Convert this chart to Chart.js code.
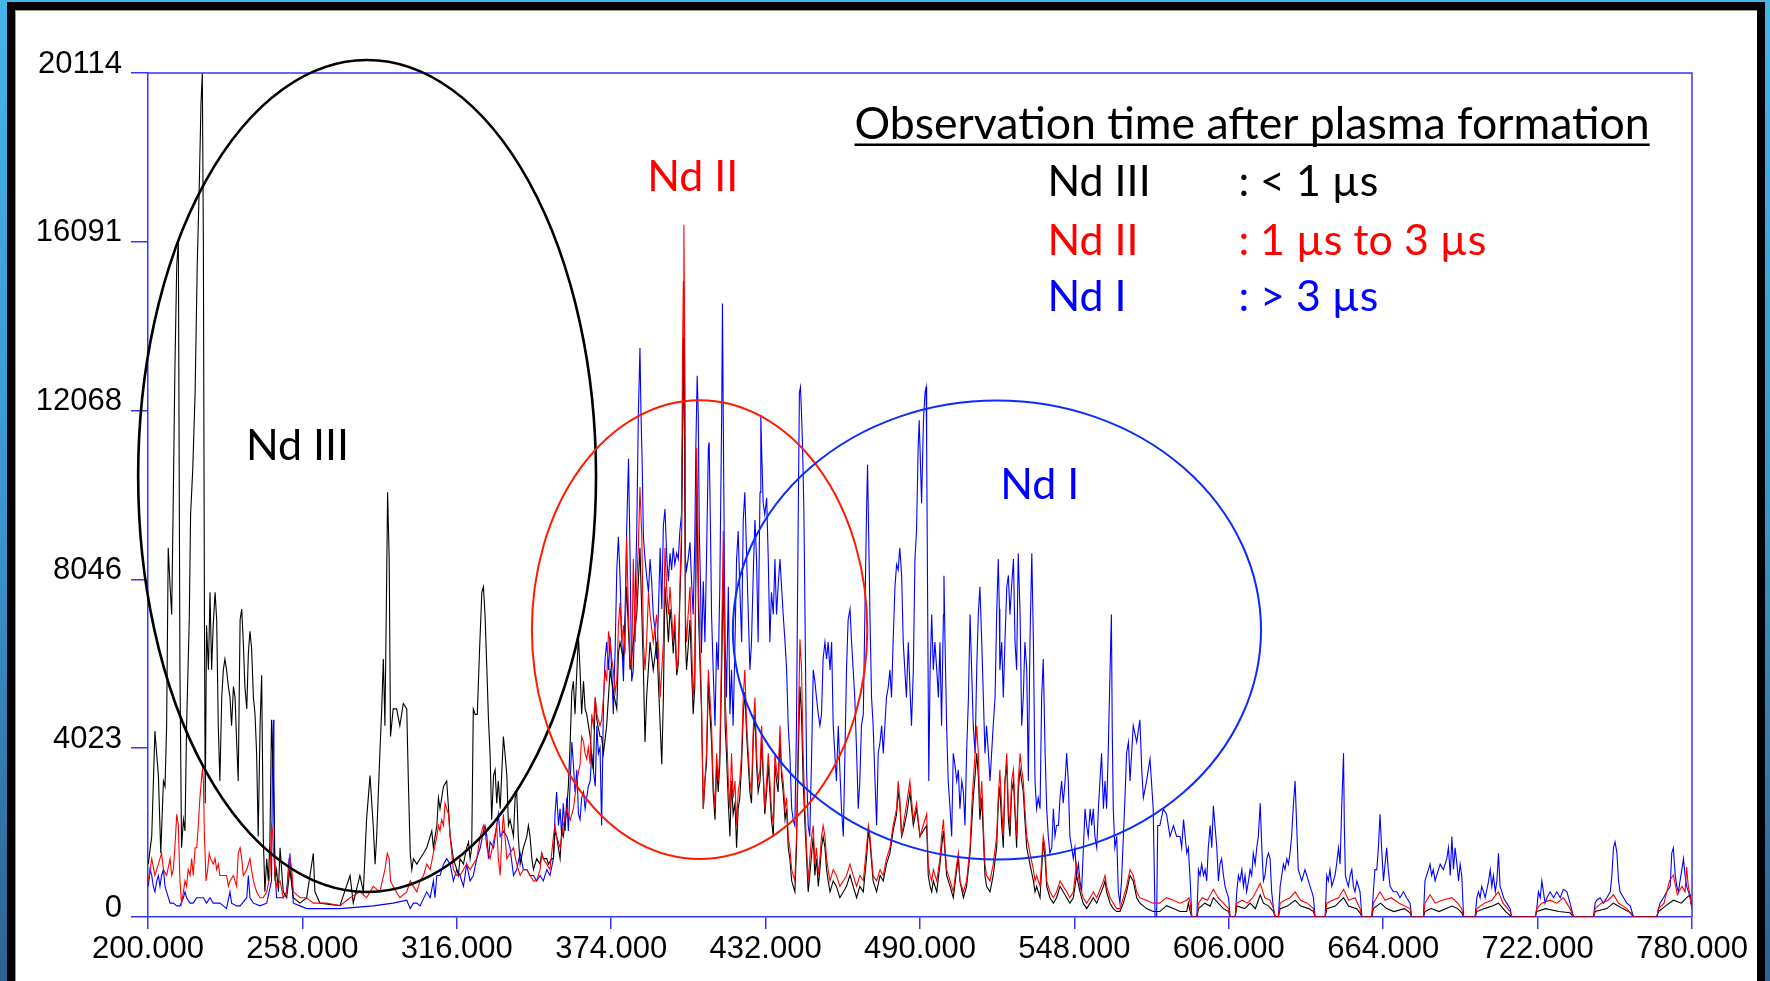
<!DOCTYPE html>
<html><head><meta charset="utf-8">
<script src="https://cdn.jsdelivr.net/npm/chart.js@4.4.1/dist/chart.umd.min.js"></script>
<style>
html,body{margin:0;padding:0;width:1770px;height:981px;overflow:hidden;background:linear-gradient(180deg,#46b4ea 0%,#3b93cc 55%,#2c628f 100%);}
#frame{position:absolute;left:7px;top:2px;width:1742px;height:1000px;background:#fff;border-left:8px solid #000;border-top:8px solid #000;border-right:8px solid #000;box-shadow:inset 1px 1px 0 #9a9a9a;}
#c{position:absolute;left:0;top:0;}
</style></head>
<body><div id="frame"></div><canvas id="c" width="1770" height="981"></canvas>
<script>
// ---------- axis tick values ----------
const xTickValues = [200,258,316,374,432,490,548,606,664,722,780];
const yTickValues = [0,4023,8046,12068,16091,20114];

// ---------- Nd III (< 1 µs), black ----------
const blackNm = [200.1,201.4,202.6,203.9,204.8,205.8,206.4,207.0,207.6,208.3,208.9,209.5,210.1,210.8,211.4,212.0,212.6,213.3,213.9,214.5,215.5,216.0,216.8,217.7,218.5,219.3,219.9,220.4,220.8,221.2,221.5,222.0,222.7,223.3,223.9,224.5,225.2,225.8,226.4,227.0,227.7,228.3,228.9,229.5,230.2,230.8,231.4,232.1,232.7,233.3,233.9,234.6,235.2,235.8,236.4,237.1,237.7,238.3,238.9,239.6,240.2,240.8,241.4,242.1,242.7,243.3,243.9,244.6,245.2,245.8,246.4,247.1,247.7,248.3,249.0,249.6,250.2,250.8,252.1,253.3,254.6,257.1,259.6,262.1,262.7,264.6,272.1,275.9,277.1,279.6,280.9,282.1,283.4,284.6,285.3,285.9,287.1,287.8,288.4,289.0,289.6,290.0,290.6,291.1,292.1,293.4,294.6,295.9,297.2,297.8,
298.5,299.1,299.7,301.0,302.2,303.5,304.7,306.0,306.6,307.2,308.5,309.1,309.7,311.0,312.2,312.9,313.5,314.7,316.0,316.6,317.2,318.5,319.7,320.4,321.0,321.6,322.2,322.9,323.7,324.5,325.4,326.0,326.6,327.3,327.9,328.5,329.1,329.8,330.4,331.0,331.6,332.3,333.5,334.1,334.8,335.4,336.0,337.3,337.9,338.5,339.1,339.8,341.0,342.3,342.9,343.5,344.2,344.8,346.0,347.3,347.9,348.5,349.8,350.4,351.7,352.3,352.9,353.5,354.8,355.4,356.0,357.3,357.9,358.6,359.2,359.8,360.4,361.1,361.7,362.3,362.9,363.6,364.2,364.8,366.1,366.7,367.3,368.0,368.6,369.8,370.4,371.1,372.3,373.6,374.8,376.1,376.7,377.3,378.6,379.8,381.1,382.3,383.6,384.8,386.1,386.7,387.3,388.6,389.8,391.1,392.4,393.0,393.6,394.2,394.9,395.5,
396.1,396.7,397.3,397.9,398.6,399.2,399.8,400.4,400.8,401.3,401.6,401.9,402.3,402.9,403.6,404.2,404.8,405.4,406.1,406.4,406.8,407.3,407.9,408.6,409.2,409.8,410.5,411.1,411.7,412.3,413.0,413.6,414.2,414.8,415.5,416.1,416.5,416.8,417.3,418.0,418.6,419.2,419.8,420.5,421.1,421.7,422.3,423.0,423.6,424.2,424.9,425.5,426.1,426.7,427.4,428.0,428.6,429.2,429.9,430.5,431.1,431.7,432.4,433.0,433.6,434.2,434.9,435.5,436.1,436.7,437.4,438.0,438.6,439.3,439.9,440.5,441.1,441.8,442.4,443.0,443.6,444.3,444.9,445.5,446.1,446.8,447.4,448.0,448.6,449.3,449.9,450.5,451.1,451.8,452.4,453.0,453.6,454.3,454.9,455.5,456.2,457.4,458.6,459.9,461.2,462.4,463.7,464.9,466.2,467.4,468.7,469.9,470.6,471.2,472.4,473.7,475.0,476.2,477.4,478.7,479.9,481.2,481.8,482.4,483.1,483.7,485.0,486.2,487.5,488.7,490.0,491.2,
492.5,493.1,493.8,494.4,495.0,496.3,497.5,498.1,498.8,499.4,500.0,501.3,502.5,503.8,504.4,505.0,506.3,507.5,508.8,509.4,510.0,510.7,511.3,511.9,512.5,513.2,513.8,514.4,515.0,516.3,517.5,518.8,519.4,520.0,520.7,521.3,521.9,522.6,523.2,523.8,524.4,525.1,525.7,526.3,526.9,527.6,528.2,528.8,529.4,530.1,531.3,532.6,533.2,533.8,535.1,536.3,537.0,537.6,538.8,540.1,541.3,542.6,543.8,545.1,546.3,547.6,548.8,550.1,551.3,552.6,553.9,555.1,556.4,558.9,559.5,560.1,561.4,562.6,563.9,565.1,566.4,567.6,568.9,570.1,571.4,572.6,575.1,577.6,580.1,582.6,585.2,587.7,590.2,
590.8,591.5,592.1,594.0,594.6,597.0,599.0,600.2,602.0,604.0,605.9,606.5,608.4,609.0,612.0,614.0,616.0,617.8,619.0,621.0,622.8,623.4,624.6,625.3,628.0,630.9,633.0,636.0,637.8,638.4,642.2,642.8,646.0,649.1,651.0,654.0,655.3,656.0,659.7,660.3,663.0,665.3,668.0,672.0,674.1,674.7,679.1,679.7,682.0,685.0,689.8,692.0,693.5,694.2,698.5,699.2,702.0,705.0,707.3,710.0,712.3,721.1,721.7,725.0,730.0,734.2,735.5,743.0,743.6,748.0,750.5,754.0,757.0,758.0,766.8,767.4,770.0,773.0,776.0,778.0,779.3,780.0];
const blackInt = [1260,1920,4430,3370,1520,3240,3110,4560,8800,7870,7210,9990,13030,15550,16080,5890,1650,2320,2050,4560,7080,9590,10650,12500,15550,17530,19380,20110,16080,7210,2710,6950,5890,7740,5890,6950,7740,7080,4560,3240,5230,5890,6150,5890,5490,5230,4560,5490,5230,4170,3240,7080,7340,6550,5490,4960,6280,6810,6420,5230,4830,3900,1920,4560,5760,1920,600,1390,860,1790,4700,3240,860,1130,600,1650,1130,600,460,1130,460,330,460,1520,600,330,270,990,330,990,600,2320,3370,2180,1260,1920,3900,4960,6150,4560,7740,10120,8530,4300,4960,4960,4560,5090,4960,3240,
1520,1130,1390,1260,1390,1520,1650,1920,2050,1650,2180,2840,2580,3110,3240,2580,1920,1390,1130,990,1390,1260,1650,1790,1390,1650,4960,4830,4830,6280,7740,7870,7210,5890,4700,3900,2320,3370,3510,2710,3240,2580,4300,3900,3370,2180,2320,1920,2840,2980,1920,1260,1650,1920,2180,1920,1390,1130,1390,1260,1520,1390,1390,1260,1390,1390,2050,1920,1390,2050,1920,2580,3110,4170,5360,5620,4830,5890,6680,5890,4830,5620,4960,4830,4300,3770,3510,5230,4700,4300,4300,3900,4560,5890,5360,4960,6280,6550,6150,7870,5890,6550,7210,8800,5890,4170,5230,6550,5890,6550,4560,3640,5230,7870,7210,6550,
7340,6950,6280,6950,5760,6020,7600,8800,11500,13800,11000,6550,5890,6420,7080,5890,4830,5490,10120,9060,7210,6150,4960,2580,3240,3640,5620,4830,4170,2980,2320,3640,2980,3640,5890,8270,6420,4560,3900,2710,1920,3240,2450,2710,1650,2580,2840,3640,4830,5360,4300,3640,2980,2710,4300,4830,3640,2980,3240,4170,3370,2450,2980,3640,2980,2320,1920,3640,3240,2980,4300,3370,2980,2320,2580,1650,1390,860,730,600,1650,3900,5490,4830,3240,2180,1390,600,990,1520,1920,990,1390,730,1130,1650,1920,1650,1130,860,600,860,730,460,600,730,1000,730,460,730,600,1390,2050,1790,860,600,990,860,1260,1520,2050,2450,2980,2710,1920,2050,2450,2980,2180,2580,1920,2050,
2180,990,730,600,860,600,1260,1650,2050,1520,990,730,460,1130,1390,860,460,730,1520,2180,2840,3370,3900,3370,2320,2840,1920,990,730,600,990,1650,2710,3110,2180,1650,3240,3640,2320,1920,2980,3240,2450,1650,2980,3510,3240,2980,2320,1650,1260,860,600,730,460,1790,1390,730,460,330,460,730,600,460,330,460,990,600,330,200,330,460,330,730,860,600,330,200,130,130,330,600,990,860,460,330,200,130,130,270,200,130,130,
330,130,0,0,200,330,260,460,330,200,130,0,0,260,200,330,200,530,330,260,130,0,0,200,260,400,260,200,130,0,0,200,260,460,260,200,100,0,0,200,330,200,130,200,100,0,0,130,200,130,260,200,100,0,0,130,200,260,330,130,0,0,130,200,130,100,0,0,130,200,330,200,100,0,0,130,260,400,330,460,530,200];

// ---------- Nd II (1 µs to 3 µs), red ----------
const redNm = [200.1,201.4,202.6,203.9,204.5,205.1,205.8,207.0,208.3,208.9,209.5,210.1,210.8,211.4,212.0,212.6,213.3,213.9,214.5,215.1,215.8,216.4,217.0,217.7,218.3,218.9,219.5,220.2,220.5,220.8,221.2,221.8,222.4,223.0,223.5,224.5,225.2,225.8,226.4,227.0,228.3,229.5,230.2,230.8,232.1,233.3,233.9,234.6,235.2,235.8,237.1,237.7,238.3,238.9,239.6,240.2,240.8,242.1,243.3,244.6,245.8,246.4,246.8,247.1,247.7,248.3,249.6,250.8,252.1,253.3,254.0,254.6,257.1,259.6,262.1,267.1,272.1,275.9,279.6,282.1,284.6,287.1,289.0,289.9,290.6,291.1,292.1,294.6,297.2,
298.5,299.7,301.0,302.2,303.5,304.7,306.0,307.2,308.5,309.1,309.7,310.3,311.0,311.6,312.2,312.9,313.5,314.7,316.0,317.2,318.5,319.7,321.0,322.2,323.5,324.8,326.0,326.6,327.3,328.5,329.8,331.0,331.6,332.3,332.9,333.5,334.1,334.8,336.0,337.3,338.5,339.8,341.0,342.3,343.5,344.8,346.0,347.3,347.9,348.5,349.8,351.0,352.3,352.9,353.5,354.8,356.0,357.3,358.6,359.8,361.1,362.3,362.9,363.6,364.2,364.8,365.4,366.1,366.7,367.3,368.0,368.6,369.8,370.4,371.1,371.7,372.3,373.0,373.6,374.2,374.8,375.5,376.1,376.7,377.3,378.0,378.6,379.2,379.8,380.5,381.1,381.7,382.3,383.0,383.6,384.2,384.8,385.5,386.1,386.7,387.3,388.0,388.6,389.8,391.1,391.7,392.4,393.0,393.6,394.2,394.9,395.5,
396.1,396.7,397.3,397.9,398.6,399.2,399.8,400.4,400.8,401.1,401.3,401.6,401.9,402.3,402.9,403.6,404.2,404.8,405.4,406.1,406.4,406.8,407.3,407.9,408.6,409.2,409.8,410.5,411.1,411.7,412.3,413.0,413.6,414.2,414.8,415.5,416.1,416.5,416.8,417.3,418.0,418.6,419.2,419.8,420.5,421.1,421.7,422.3,423.0,423.6,424.2,424.9,425.5,426.1,426.7,427.4,428.0,428.6,429.2,429.9,430.5,431.1,431.7,432.4,433.0,433.6,434.2,434.9,435.5,436.1,436.7,437.4,438.0,438.6,439.3,439.9,440.5,441.1,441.8,442.4,443.0,443.6,444.3,444.9,445.5,446.1,446.8,447.4,448.0,448.6,449.3,449.9,450.5,451.1,451.8,452.4,453.0,453.6,454.3,454.9,455.5,456.2,457.4,458.6,459.9,461.2,462.4,463.7,464.9,466.2,467.4,468.7,469.9,470.6,471.2,472.4,473.7,475.0,476.2,477.4,478.7,479.9,481.2,481.8,482.4,483.1,483.7,485.0,486.2,487.5,488.7,490.0,491.2,
492.5,493.1,493.8,494.4,495.0,496.3,497.5,498.1,498.8,499.4,500.0,501.3,502.5,503.8,504.4,505.0,506.3,507.5,508.8,509.4,510.0,510.7,511.3,511.9,512.5,513.2,513.8,514.4,515.0,516.3,517.5,518.8,519.4,520.0,520.7,521.3,521.9,522.6,523.2,523.8,524.4,525.1,525.7,526.3,526.9,527.6,528.2,528.8,529.4,530.1,531.3,532.6,533.2,533.8,535.1,536.3,537.0,537.6,538.8,540.1,541.3,542.6,543.8,545.1,546.3,547.6,548.8,550.1,551.3,552.6,553.9,555.1,556.4,558.9,559.5,560.1,561.4,562.6,563.9,565.1,566.4,567.6,568.9,570.1,571.4,572.6,575.1,577.6,580.1,582.6,585.2,587.7,590.2,
591.0,591.5,592.1,594.0,594.6,596.0,598.0,600.2,602.0,604.0,605.9,606.5,608.4,609.0,611.0,613.0,615.0,617.8,619.5,621.5,622.8,623.4,624.6,625.3,627.0,629.0,630.9,633.0,635.5,637.8,638.4,642.2,642.8,645.0,647.2,649.1,651.0,653.4,655.3,656.0,659.7,660.3,662.8,664.7,667.0,670.0,674.1,674.7,679.1,679.7,681.6,683.5,686.0,689.8,692.0,693.5,694.2,698.5,699.2,702.0,704.8,707.3,709.0,711.7,712.3,721.1,721.7,723.6,726.7,729.2,731.7,734.2,735.5,743.0,743.6,746.0,748.5,750.5,752.4,755.5,758.0,766.8,767.4,769.5,771.5,773.0,774.5,776.2,777.4,778.0,778.5,779.3,780.0];
const redInt = [860,1390,990,1260,1390,1520,1130,990,1390,990,1130,1650,2450,2180,860,330,600,860,730,1130,990,1390,990,1650,1650,2180,2840,3370,3510,3240,1920,860,1130,1520,1390,1260,1390,1130,1260,990,990,990,730,860,990,730,1520,1650,1390,990,1130,1260,1390,1130,860,730,600,460,460,600,990,2180,2050,1650,990,730,860,460,600,1390,1130,600,460,460,330,330,270,460,600,460,730,600,1130,1520,1390,860,730,460,600,
860,730,600,860,990,1260,1130,1520,1920,2180,2050,2320,2180,2710,2580,2450,1920,1130,990,990,1130,1260,1130,1260,1390,1920,2180,2050,1650,1390,1790,2180,1390,990,1920,2450,1920,1390,1520,1650,1260,990,1130,1130,990,860,860,1130,1520,1390,1260,1130,1920,2180,1920,1650,2180,2580,2310,2580,3240,3640,4300,4170,3900,3770,4040,3640,4830,4560,5230,4830,4560,4700,5230,5890,5620,6810,6550,6150,5890,5360,5620,6950,7480,6550,6950,6280,9060,7210,6150,5890,8530,6550,8000,8800,10250,9060,6550,5890,6550,7740,7210,6550,7210,6420,5230,5890,6550,8800,7740,7210,
7870,7210,6550,7210,5890,6150,7870,9200,13560,15150,16500,13830,7210,6550,7210,7870,6550,5230,5890,11180,10120,7870,6550,5230,2580,3240,3900,5890,5230,4560,3240,2580,3900,3240,3900,6550,9200,7210,5230,4560,3240,2580,3900,2840,3240,2180,2980,3240,3900,5230,5890,4560,3900,3240,2980,4560,5230,3900,3240,3510,4560,3510,2580,3240,3900,3240,2580,2180,3900,3510,3240,4560,3510,3240,2580,2840,1920,1650,1130,990,860,1920,4560,6620,5890,3900,2580,1650,860,1390,1920,2180,1260,1650,990,1390,1920,2180,1920,1390,1130,860,1130,990,730,860,990,1260,990,730,990,860,1650,2180,1920,990,860,1130,990,1390,1650,2180,2580,3240,2840,1920,2180,2710,3240,2310,2710,1920,2180,
2450,1260,990,860,1130,860,1390,1920,2320,1650,1130,860,600,1260,1520,860,600,860,1650,2580,3240,3900,4560,3900,2580,3240,2180,1260,990,860,1260,1920,2840,3510,2580,1920,3240,3900,2580,2180,3240,3510,2580,1920,3240,3900,3510,3240,2580,1920,1520,1130,860,990,730,1920,1650,860,600,460,600,860,730,600,460,600,1260,730,460,330,460,600,460,860,990,730,460,330,200,200,460,730,1130,990,600,460,400,330,330,460,400,330,400,
460,330,0,0,330,460,400,660,460,330,200,0,0,330,400,330,460,800,460,400,200,0,0,330,400,460,600,400,330,200,0,0,330,400,460,660,400,460,200,0,0,330,600,400,460,330,200,0,0,330,530,330,400,460,330,200,0,0,200,330,400,600,330,130,0,0,200,330,400,330,460,200,0,0,200,330,400,530,330,200,0,0,200,330,860,1000,530,730,600,1190,800,460,200];

// ---------- Nd I (> 3 µs), blue ----------
const blueNm = [200.1,200.8,201.4,202.0,202.6,203.3,203.9,204.5,205.1,205.8,206.4,207.0,208.3,209.5,210.8,212.0,213.3,213.9,214.5,215.8,217.0,218.3,219.5,220.8,222.0,223.3,224.5,227.0,229.5,230.8,231.4,233.3,234.6,237.1,237.7,238.3,239.6,242.1,244.6,246.4,246.8,247.1,247.3,247.7,248.3,250.8,252.1,253.0,253.3,253.7,254.6,257.1,259.6,272.1,284.6,292.1,297.2,
298.5,299.7,301.0,302.2,304.7,306.0,307.2,307.8,308.5,309.7,311.0,312.2,313.5,314.7,316.0,317.2,318.5,319.7,321.0,322.2,323.5,324.8,326.0,326.6,327.3,327.9,328.5,329.8,331.0,331.6,332.3,333.5,334.8,336.0,337.3,338.5,339.8,341.0,342.3,343.5,344.8,346.0,347.3,348.5,349.8,351.0,352.3,352.9,353.5,354.2,354.8,355.4,356.0,356.7,357.3,357.9,358.6,359.2,359.8,360.4,361.1,361.7,362.3,362.9,363.6,364.2,364.8,365.4,366.1,366.7,367.3,368.0,368.6,369.2,369.8,370.4,371.1,371.7,372.3,373.0,373.6,374.2,374.8,375.5,376.1,376.7,377.3,378.0,378.6,379.2,379.8,380.5,381.1,381.7,382.3,383.0,383.6,384.2,384.8,385.2,385.6,386.1,386.7,387.3,388.0,388.6,389.2,389.8,390.5,391.1,391.7,392.4,393.0,393.6,394.2,394.9,395.5,
396.1,396.7,397.3,397.9,398.6,399.2,399.8,400.4,401.1,401.3,401.6,401.9,402.3,402.9,403.6,404.2,404.8,405.4,405.8,406.3,406.7,407.1,407.6,407.9,408.6,409.2,409.8,410.5,410.8,411.3,411.7,412.3,413.0,413.6,414.2,414.8,415.5,415.8,416.1,416.5,416.8,417.3,418.0,418.6,419.2,419.8,420.5,421.1,421.7,422.3,423.0,423.6,424.2,424.9,425.5,426.1,426.7,427.4,428.0,428.6,429.2,429.9,430.2,430.6,431.1,431.7,432.4,433.0,433.6,434.2,434.9,435.5,436.1,436.7,437.4,438.0,438.6,439.3,439.9,440.5,441.1,441.8,442.4,443.0,443.6,444.3,444.7,445.1,445.5,445.9,446.4,446.8,447.4,448.0,448.6,449.3,449.9,450.5,451.1,451.8,452.4,453.0,453.6,454.3,454.9,455.5,456.2,456.8,457.4,458.0,458.6,459.3,459.9,460.5,461.2,461.8,462.4,463.0,463.7,464.3,464.9,465.5,466.2,466.8,467.4,468.0,468.7,469.3,469.9,470.3,470.7,471.2,471.8,472.4,473.1,473.7,474.3,475.0,475.6,476.2,476.8,477.4,478.1,478.7,479.3,479.9,480.6,481.2,481.8,482.4,483.1,483.7,484.3,484.9,485.6,486.2,486.8,487.5,488.1,488.7,489.3,489.7,
490.0,490.6,491.3,491.9,492.3,492.5,492.9,493.3,493.8,494.4,495.0,495.6,496.3,496.9,497.5,498.1,498.8,499.0,499.4,500.0,500.6,501.3,501.9,502.5,503.1,503.8,504.4,505.0,505.7,506.3,506.9,507.5,508.2,508.8,509.4,510.0,510.7,511.3,511.9,512.5,513.2,513.8,514.4,515.0,515.7,516.3,516.9,517.5,518.2,518.8,519.4,519.8,520.0,520.7,521.3,521.9,522.6,523.2,523.8,524.4,525.1,525.7,526.3,526.9,527.6,528.2,528.8,529.4,530.1,530.7,531.3,532.0,532.6,533.2,533.8,534.4,535.1,535.7,536.3,537.0,537.6,538.2,538.8,539.5,540.1,540.7,541.3,542.0,542.6,543.2,543.8,544.5,545.1,545.7,546.3,547.0,547.6,548.2,548.8,549.5,550.1,550.7,551.3,552.0,552.6,553.2,553.9,554.5,555.1,555.7,556.4,557.0,557.6,558.2,558.9,559.5,560.1,560.7,561.4,561.9,562.2,562.6,563.2,563.9,564.5,565.1,565.7,566.4,567.0,567.6,568.3,568.9,570.1,571.4,572.6,573.3,573.9,575.1,576.4,577.6,578.3,578.9,579.3,580.1,581.4,582.6,583.9,585.2,586.4,
587.7,588.3,589.0,589.6,590.2,590.8,591.5,592.1,594.0,594.6,595.2,595.8,596.5,597.1,597.7,598.3,599.0,599.6,600.2,600.8,601.5,602.1,602.7,603.3,604.0,604.6,605.2,605.9,606.5,608.4,609.0,609.6,610.2,610.9,611.5,612.1,612.7,613.4,614.0,614.6,615.2,615.9,616.5,617.1,617.8,618.4,619.0,619.6,620.3,620.9,621.5,622.1,622.8,623.4,624.6,625.3,625.9,626.5,627.1,627.8,628.4,629.0,629.6,630.3,630.9,631.5,632.1,632.8,633.4,634.0,634.6,635.3,635.9,636.5,637.2,637.8,638.4,642.2,642.8,643.4,644.0,644.7,645.3,645.9,646.5,647.2,647.8,648.4,649.1,649.4,649.8,650.3,650.9,651.6,652.2,652.8,653.4,654.1,654.7,655.3,656.0,659.7,660.3,660.9,661.6,662.2,662.8,663.4,664.1,664.7,665.3,665.9,666.6,667.8,669.1,670.3,671.6,672.8,674.1,674.7,679.1,679.7,680.3,681.0,681.6,682.2,682.8,683.5,684.1,685.4,686.6,687.9,688.5,
689.2,689.8,690.4,691.0,691.7,692.3,692.9,693.5,694.2,698.5,699.2,699.8,700.4,701.0,701.7,702.3,703.6,704.2,704.8,705.4,706.1,706.7,707.3,707.9,708.6,709.2,710.4,711.7,712.3,721.1,721.7,722.3,723.0,723.6,724.2,724.8,725.5,726.7,728.0,729.2,730.5,731.7,733.0,734.2,735.5,743.0,743.6,744.2,745.5,746.7,748.0,749.3,749.9,750.5,751.1,751.8,752.4,753.0,754.3,755.5,756.8,758.0,766.8,767.4,768.0,769.3,770.5,771.8,772.4,773.0,773.7,774.3,774.9,775.5,776.2,776.8,777.4,778.0,778.7,779.3,780.0];
const blueInt = [730,1130,990,730,600,860,990,730,990,1130,730,600,330,330,265,265,460,600,460,330,330,460,460,460,330,460,330,330,200,600,330,265,265,460,990,460,330,265,330,860,4040,4700,3240,1130,460,460,600,1390,1520,1130,330,265,200,200,265,331,400,
200,330,330,265,600,460,860,460,990,990,1260,1390,1260,860,1130,990,730,1260,860,990,1390,1650,2050,2180,1920,1390,1790,1650,2180,2450,1920,2050,1920,1650,990,1130,1520,1130,1130,990,990,860,990,860,1130,990,1390,2450,2980,2180,2580,1920,2710,2050,2840,2050,3240,4170,3640,2980,3510,2450,2320,2840,2980,2580,2840,3110,3240,3900,3510,3110,4560,3900,4040,2180,5090,6150,6550,5890,6680,5890,4830,6420,8270,9060,8140,6550,5620,7210,9190,10920,8530,5620,5890,7610,9190,11970,13560,11970,10920,9060,8530,8140,7740,8530,8000,7210,6810,6150,7210,8800,7340,9330,9720,8530,8000,
8670,8270,8800,8400,8670,8530,9200,9590,13030,15040,13030,8530,8270,8530,8930,7990,7210,8930,11180,12900,11970,9200,7740,6290,8000,6550,8530,11180,11310,9200,7210,5890,4560,6550,5890,7870,11970,14620,11840,8530,6550,5230,7870,4830,5890,4560,6550,8530,9200,7870,6550,9460,10120,8530,7210,5890,6550,8270,9460,8530,6550,10120,11970,10920,9860,9590,9990,8530,6550,7740,7210,8530,7210,7870,8530,7870,7210,6550,5890,4560,3900,2580,2310,2180,4560,9860,12500,12630,11970,11180,9590,7210,3510,2180,1920,3900,5890,5620,5230,4830,4560,4830,6150,6550,6150,6550,5890,6550,4560,3900,3240,4560,3510,2580,1920,3900,5890,7080,7340,6550,5890,5230,3900,2580,3240,4560,4830,7210,9590,10780,9200,7210,5230,4560,3240,2180,3900,4170,4560,3900,4560,5230,5490,5890,5230,6550,7870,8400,8270,8800,8140,6550,5890,5230,6550,5490,4560,5890,8530,9200,11180,11840,
11180,9860,11840,12500,12630,11180,7210,3240,5890,7210,5890,6550,5890,5230,6550,4560,7210,8130,6550,4560,3240,2580,1920,3900,3640,3240,3510,2580,3240,2980,2180,3900,5230,7210,5890,4560,3900,5890,7210,7870,6550,5230,3900,4560,3900,3240,3900,4560,5230,7210,8530,7340,5890,6550,5230,6550,7870,8140,7210,7870,8530,6550,5890,8670,7210,4560,5230,6550,5890,3240,6550,8670,6550,3240,2580,2840,2580,5230,6150,3900,2580,1920,1520,1650,2580,1920,2180,2180,2840,3240,2710,3240,3900,3240,1920,1650,1390,1650,990,1260,860,600,1520,2580,2180,1920,2580,2180,2580,1920,1650,2580,3240,3900,2580,3240,2580,3900,5890,7210,4560,2580,1650,1920,600,330,860,1920,2840,3900,4170,3240,4560,4170,4700,3510,2840,3240,3770,2580,0,0,2180,2180,2580,2450,1920,2180,1920,
1920,1650,2320,1920,1520,1650,860,0,0,1130,990,1260,990,1130,860,1650,2180,1650,2650,2180,1650,860,1260,1390,990,730,600,460,0,0,600,990,860,1130,730,990,600,860,1130,990,1520,1260,1650,1920,2710,1650,860,990,1390,1520,1390,600,200,0,0,730,990,1260,1130,1390,1260,1520,1920,2710,3240,2180,1130,990,860,990,1130,990,860,730,600,460,0,0,990,860,1130,730,860,990,1260,1650,1260,2580,3900,2180,990,860,730,990,1130,730,600,860,730,600,0,0,600,1130,1130,1650,2450,1650,860,1260,1650,1130,730,600,600,460,600,460,330,0,0,860,990,1130,1260,990,1130,860,990,1260,1130,1390,1650,
990,1920,1130,1650,1260,860,1260,990,0,0,460,600,460,730,600,460,860,1130,730,990,600,860,1520,730,600,460,330,200,0,0,200,600,460,860,600,330,460,600,460,600,460,660,600,330,0,0,330,400,460,330,460,600,990,1650,1790,1520,860,600,460,330,265,0,0,200,330,460,600,730,1520,1650,990,730,600,860,1130,1390,990,730,600,460,200];

// ---------- annotations (data units: nm, counts) ----------
const ellipses = [
  {cx:282.3, cy:10510, rx:86.0, ry:9914, color:'#000000', width:2.6},
  {cx:407.2, cy:6849,  rx:63.0, ry:5467, color:'#ff1a00', width:2.0},
  {cx:518.9, cy:6840,  rx:99.2, ry:5470, color:'#0a2cff', width:2.0}
];
const plotLabels = [
  {text:'Nd III', x:236.8, y:10891, color:'#000000'},
  {text:'Nd II',  x:387.5, y:17302, color:'#ff0000'},
  {text:'Nd I',   x:520.1, y:9962,  color:'#0000ff'}
];
const noteTitle = {text:'Observation time after plasma formation', x:465.4, y:18553};
const noteRows = [
  {name:'Nd III', time:': < 1 µs',        color:'#000000', y:17183},
  {name:'Nd II',  time:': 1 µs to 3 µs',  color:'#ff0000', y:15765},
  {name:'Nd I',   time:': > 3 µs',        color:'#0000ff', y:14442}
];
const noteCol1X = 537.9, noteCol2X = 609.6;

function pts(xs, ys){ return xs.map((x,i)=>({x:x, y:ys[i]})); }

const AXIS = '#3535ff';
const TEXT_FONT = 'Lato';

const overlay = {
  id:'overlay',
  afterDraw(chart){
    const ctx = chart.ctx, xs = chart.scales.x, ys = chart.scales.y, a = chart.chartArea;
    ctx.save();
    ctx.strokeStyle = AXIS; ctx.lineWidth = 1.5;
    ctx.beginPath(); ctx.moveTo(a.left, a.top); ctx.lineTo(a.right, a.top); ctx.lineTo(a.right, a.bottom); ctx.stroke();
    ellipses.forEach(e=>{
      const cx = xs.getPixelForValue(e.cx), cy = ys.getPixelForValue(e.cy);
      const rx = xs.getPixelForValue(e.cx+e.rx) - cx, ry = cy - ys.getPixelForValue(e.cy+e.ry);
      ctx.beginPath(); ctx.ellipse(cx, cy, rx, ry, 0, 0, Math.PI*2);
      ctx.strokeStyle = e.color; ctx.lineWidth = e.width; ctx.stroke();
    });
    ctx.font = '100px ' + TEXT_FONT;
    const w100 = ctx.measureText(noteTitle.text).width;
    const size = 100 * 796 / w100;
    const small = size * 0.96;
    ctx.textBaseline = 'alphabetic'; ctx.textAlign = 'left';
    ctx.font = size.toFixed(1) + 'px ' + TEXT_FONT;
    const tx = xs.getPixelForValue(noteTitle.x), ty = ys.getPixelForValue(noteTitle.y);
    ctx.fillStyle = '#000'; ctx.fillText(noteTitle.text, tx, ty);
    const tw = ctx.measureText(noteTitle.text).width;
    ctx.fillRect(tx, ty + 5, tw, 2.5);
    ctx.font = small.toFixed(1) + 'px ' + TEXT_FONT;
    noteRows.forEach(r=>{
      const y = ys.getPixelForValue(r.y);
      ctx.fillStyle = r.color;
      ctx.fillText(r.name, xs.getPixelForValue(noteCol1X), y);
      ctx.fillText(r.time, xs.getPixelForValue(noteCol2X), y);
    });
    plotLabels.forEach(l=>{
      ctx.fillStyle = l.color;
      ctx.fillText(l.text, xs.getPixelForValue(l.x), ys.getPixelForValue(l.y));
    });
    ctx.restore();
  }
};

new Chart(document.getElementById('c'), {
  type:'line',
  data:{ datasets:[
    {label:'Nd II', data:pts(redNm, redInt), borderColor:'#ff0000', borderWidth:1.1},
    {label:'Nd III', data:pts(blackNm, blackInt), borderColor:'#000000', borderWidth:1.1},
    {label:'Nd I', data:pts(blueNm, blueInt), borderColor:'#0000ff', borderWidth:1.1}
  ]},
  options:{
    responsive:false, animation:false, parsing:true,
    elements:{ point:{radius:0}, line:{tension:0, fill:false} },
    layout:{ padding:{left:0, right:78, top:73, bottom:0} },
    plugins:{ legend:{display:false}, tooltip:{enabled:false}, title:{display:false} },
    scales:{
      x:{ type:'linear', min:200, max:780,
        afterBuildTicks(s){ s.ticks = xTickValues.map(v=>({value:v})); },
        afterFit(s){ s.height = 64; },
        ticks:{ callback:v=>Number(v).toFixed(3), color:'#000', font:{family:'Liberation Sans', size:31}, maxRotation:0, autoSkip:false, padding:2 },
        grid:{ drawOnChartArea:false, drawTicks:true, tickLength:12, color:AXIS, lineWidth:1.5 },
        border:{ color:AXIS, width:1.5 }
      },
      y:{ type:'linear', min:0, max:20114,
        afterBuildTicks(s){ s.ticks = yTickValues.map(v=>({value:v})); },
        afterFit(s){ s.width = 148; },
        ticks:{ callback:v=>String(v), color:'#000', font:{family:'Liberation Sans', size:31}, padding:9, labelOffset:-9 },
        grid:{ drawOnChartArea:false, drawTicks:true, tickLength:17, color:AXIS, lineWidth:1.5 },
        border:{ color:AXIS, width:1.5 }
      }
    }
  },
  plugins:[overlay]
});
</script></body></html>
